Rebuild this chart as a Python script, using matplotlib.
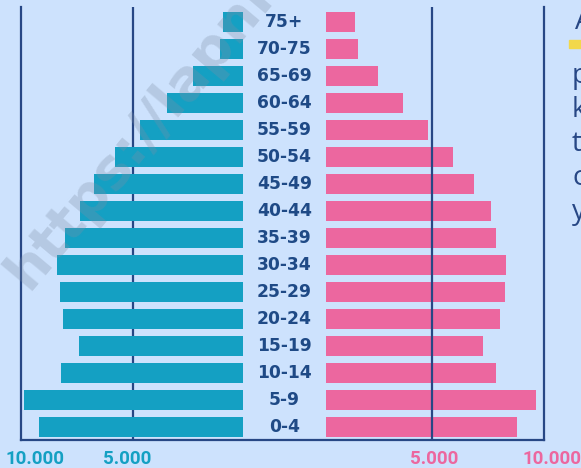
import matplotlib.pyplot as plt
import matplotlib.transforms as mtransforms

# data: population by age group (left = teal, right = pink)
ages = ["0-4", "5-9", "10-14", "15-19", "20-24", "25-29", "30-34", "35-39",
        "40-44", "45-49", "50-54", "55-59", "60-64", "65-69", "70-75", "75+"]
left_vals = [9270, 9950, 8270, 7450, 8180, 8320, 8450, 8090,
             7410, 6770, 5820, 4680, 3450, 2270, 1050, 900]
right_vals = [9010, 9900, 8020, 7400, 8210, 8440, 8490, 8020,
              7780, 6980, 5990, 4810, 3630, 2450, 1510, 1370]
tick_labels = ["10.000", "5.000", "5.000", "10.000"]

bg = "#cde2fd"
teal = "#14a0c3"
pink = "#ec679f"
navy = "#274785"
label_col = "#1f4a86"

W, H = 581, 468
fig = plt.figure(figsize=(W / 100, H / 100), dpi=100, facecolor=bg)

def px_axes(x0, x1, y_top, y_bot):
    return fig.add_axes([x0 / W, (H - y_bot) / H, (x1 - x0) / W, (y_bot - y_top) / H])

ypos = list(range(len(ages)))
ylim = (-0.48, 15.56)

# frame
ax_bg = px_axes(21, 544, 7, 440)
ax_bg.set_facecolor("none")
ax_bg.set_ylim(*ylim)
ax_bg.set_xticks([])
ax_bg.set_yticks([])
ax_bg.spines["top"].set_visible(False)
for s in ["left", "right", "bottom"]:
    ax_bg.spines[s].set_color(navy)
    ax_bg.spines[s].set_linewidth(1.6)

# left side
ax_l = px_axes(21, 243, 7, 440)
ax_l.set_facecolor("none")
ax_l.barh(ypos, left_vals, height=0.74, color=teal, zorder=2)
ax_l.axvline(5000, color=navy, lw=1.6, zorder=1)
ax_l.set_xlim(10090, 0)
ax_l.set_ylim(*ylim)
ax_l.axis("off")

# right side
ax_r = px_axes(326, 544, 7, 440)
ax_r.set_facecolor("none")
ax_r.barh(ypos, right_vals, height=0.74, color=pink, zorder=2)
ax_r.axvline(5000, color=navy, lw=1.6, zorder=3)
ax_r.set_xlim(0, 10283)
ax_r.set_ylim(*ylim)
ax_r.axis("off")

# age labels in the middle
tr = mtransforms.blended_transform_factory(fig.transFigure, ax_bg.transData)
for y, a in zip(ypos, ages):
    fig.text(284.5 / W, y, a, transform=tr, ha="center", va="center",
             fontsize=12.3, fontweight="bold", color=label_col, family="DejaVu Sans")

# bottom tick labels
for x, t, c in zip([35, 127, 434, 552], tick_labels, [teal, teal, pink, pink]):
    fig.text(x / W, 1 - 459 / H, t, ha="center", va="center", fontsize=13.5,
             fontweight="bold", color=c, family="Roboto")

# cut-off text on the right edge
fig.text(575 / W, 1 - 22 / H, "A", ha="left", va="center", fontsize=20, color=navy, family="Open Sans")
fig.patches.append(plt.Rectangle((569 / W, 1 - 48 / H), 14 / W, 8 / H,
                                 transform=fig.transFigure, color="#f2d84b"))
for y, ch in zip([76, 110, 144, 178, 212], ["p", "k", "t", "c", "y"]):
    fig.text(572 / W, 1 - y / H, ch, ha="left", va="center", fontsize=20,
             color=navy, family="Open Sans")

# watermark
fig.text(140 / W, 1 - 135 / H, "https://lapni", rotation=50, ha="center", va="center",
         fontsize=40, fontweight="bold", color="#7f8fa6", alpha=0.3, family="DejaVu Sans")

fig.savefig("out.png", dpi=100, facecolor=bg)
